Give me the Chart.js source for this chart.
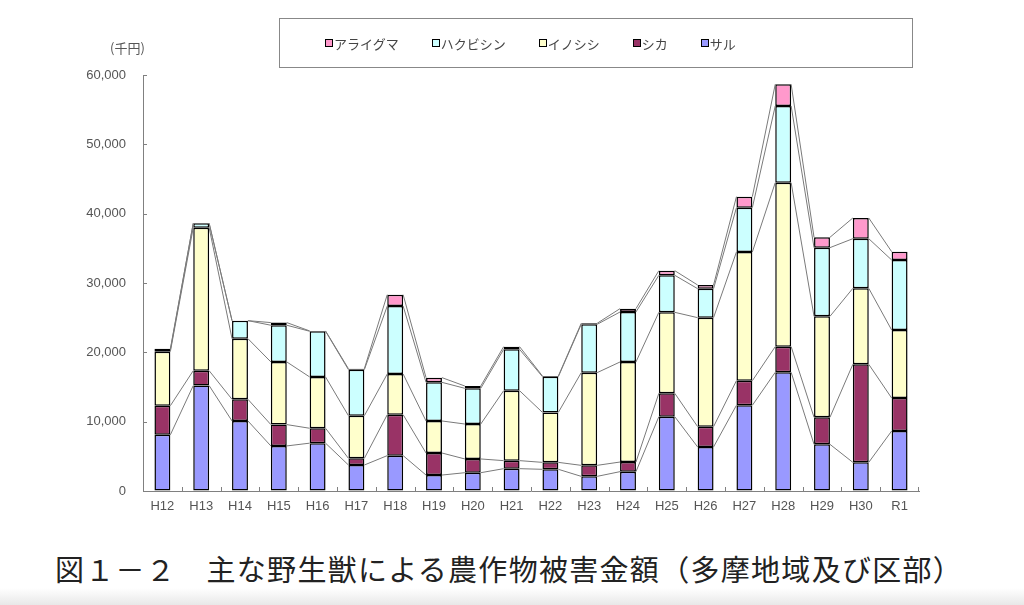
<!DOCTYPE html>
<html lang="ja">
<head>
<meta charset="utf-8">
<script src="https://cdn.jsdelivr.net/npm/chart.js@4.4.1/dist/chart.umd.min.js"></script>
<style>
  html, body { margin: 0; padding: 0; background: #fff; }
  body { width: 1024px; height: 605px; position: relative; overflow: hidden; }
  #wrap { position: absolute; left: 0; top: 0; width: 1024px; height: 540px; }
  #c { display: block; width: 1024px; height: 540px; }
  #legend {
    position: absolute; left: 279px; top: 18px; width: 634px; height: 50px;
    border: 1px solid #888; display: flex; align-items: center;
    padding-left: 45px; box-sizing: border-box;
    font-family: "Noto Sans CJK JP", sans-serif; font-size: 13px; color: #444;
  }
  #legend .item { display: flex; align-items: center; margin-right: 33px; white-space: nowrap; }
  #legend .sw { width: 6px; height: 6px; border: 1px solid #000; margin-right: 1px; }
  #unit {
    position: absolute; left: 110px; top: 38px;
    font-family: "Noto Sans CJK JP", sans-serif; font-size: 13px; color: #555;
  }
  #caption {
    position: absolute; left: 55px; top: 550px;
    font-family: "Noto Sans CJK JP", serif; font-size: 29px; line-height: 36px;
    color: #222; letter-spacing: 1.3px; white-space: nowrap;
  }
  #shade {
    position: absolute; left: 0; top: 588px; width: 1024px; height: 17px;
    background: linear-gradient(to bottom, rgba(235,235,235,0), rgba(232,232,232,1));
  }
</style>
</head>
<body>
<div id="wrap"><canvas id="c" width="1024" height="540"></canvas></div>
<div id="legend"></div>
<div id="unit">(千円)</div>
<div id="shade"></div>
<div id="caption">図１－２　主な野生獣による農作物被害金額（多摩地域及び区部）</div>
<script>
// ---- data ----
const categories = ['H12','H13','H14','H15','H16','H17','H18','H19','H20','H21','H22','H23','H24','H25','H26','H27','H28','H29','H30','R1'];
const seriesNames = ['サル','シカ','イノシシ','ハクビシン','アライグマ'];
const saru      = [8100, 15200, 10100, 6500, 6900, 3750, 5100, 2300, 2640, 3220, 3130, 2110, 2790, 10720, 6350, 12360, 17120, 6730, 4130, 8650];
const shika     = [4200, 2150, 3120, 3080, 2150, 960, 5900, 3180, 1980, 1160, 1000, 1590, 1390, 3370, 2930, 3550, 3700, 3900, 14140, 4760];
const inoshishi = [7800, 20630, 8750, 9040, 7400, 6150, 5870, 4620, 5040, 10090, 7210, 13370, 14430, 11680, 15720, 18560, 23650, 14560, 10960, 9810];
const hakubishin= [250, 630, 2600, 5290, 6590, 6640, 9800, 5570, 5150, 5960, 5150, 6970, 7210, 5340, 4180, 6400, 11060, 9910, 7160, 10100];
const araiguma  = [150, 0, 0, 380, 50, 140, 1640, 680, 330, 390, 100, 150, 480, 670, 530, 1580, 3130, 1490, 2990, 1200];
const yTicks = [0, 10000, 20000, 30000, 40000, 50000, 60000];
const seriesValues = [saru, shika, inoshishi, hakubishin, araiguma];
const seriesColors = ['#9999FF', '#993366', '#FFFFCC', '#CCFFFF', '#FF99CC'];

// ---- legend (reverse order, like the original) ----
const legendEl = document.getElementById('legend');
for (let i = seriesNames.length - 1; i >= 0; i--) {
  const it = document.createElement('div');
  it.className = 'item';
  const sw = document.createElement('span');
  sw.className = 'sw';
  sw.style.background = seriesColors[i];
  const tx = document.createElement('span');
  tx.textContent = seriesNames[i];
  it.appendChild(sw); it.appendChild(tx);
  legendEl.appendChild(it);
}

// ---- plugin: series lines + inside tick marks ----
const decorations = {
  id: 'decorations',
  afterDatasetsDraw(chart) {
    const ctx = chart.ctx;
    ctx.save();
    ctx.strokeStyle = '#7a7a7a';
    ctx.lineWidth = 1;
    chart.data.datasets.forEach((ds, i) => {
      const meta = chart.getDatasetMeta(i);
      ctx.beginPath();
      for (let j = 0; j < meta.data.length - 1; j++) {
        const a = meta.data[j], b = meta.data[j + 1];
        ctx.moveTo(a.x + a.width / 2, a.y);
        ctx.lineTo(b.x - b.width / 2, b.y);
      }
      ctx.stroke();
    });
    // inside ticks
    const xs = chart.scales.x, ys = chart.scales.y, ca = chart.chartArea;
    ctx.strokeStyle = '#808080';
    ctx.beginPath();
    ys.ticks.forEach(t => {
      const y = Math.round(ys.getPixelForValue(t.value)) + 0.5;
      ctx.moveTo(ca.left, y); ctx.lineTo(ca.left + 4, y);
    });
    for (let j = 0; j < categories.length - 1; j++) {
      const x = Math.round((xs.getPixelForValue(j) + xs.getPixelForValue(j + 1)) / 2) + 0.5;
      ctx.moveTo(x, ca.bottom); ctx.lineTo(x, ca.bottom - 4);
    }
    ctx.moveTo(ca.right - 0.5, ca.bottom); ctx.lineTo(ca.right - 0.5, ca.bottom - 4);
    ctx.stroke();
    ctx.restore();
  }
};

const tickFont = { family: 'Arial, "Liberation Sans", sans-serif', size: 13 };

new Chart(document.getElementById('c'), {
  type: 'bar',
  data: {
    labels: categories,
    datasets: seriesValues.map((v, i) => ({
      label: seriesNames[i],
      data: v,
      backgroundColor: seriesColors[i],
      borderColor: '#000',
      borderWidth: 1.5,
      borderSkipped: false,
      barPercentage: 0.41,
      categoryPercentage: 1.0
    }))
  },
  options: {
    responsive: false,
    animation: false,
    maintainAspectRatio: false,
    devicePixelRatio: 1,
    layout: { padding: { left: 0, right: 105, top: 75, bottom: 19 } },
    plugins: { legend: { display: false }, tooltip: { enabled: false } },
    scales: {
      x: {
        stacked: true,
        grid: { display: true, drawOnChartArea: false, drawTicks: false },
        border: { display: true, color: '#808080', width: 1 },
        ticks: { color: '#555', font: tickFont, padding: 8, maxRotation: 0, autoSkip: false },
        afterFit(s) { s.height = 30; }
      },
      y: {
        stacked: true,
        min: 0, max: 60000,
        afterBuildTicks(s) { s.ticks = yTicks.map(v => ({ value: v })); },
        grid: { display: true, drawOnChartArea: false, drawTicks: false },
        border: { display: true, color: '#808080', width: 1 },
        ticks: {
          color: '#555', font: tickFont, padding: 17,
          callback: v => v.toLocaleString('en-US')
        },
        afterFit(s) { s.width = 143; }
      }
    }
  },
  plugins: [decorations]
});
</script>
</body>
</html>
